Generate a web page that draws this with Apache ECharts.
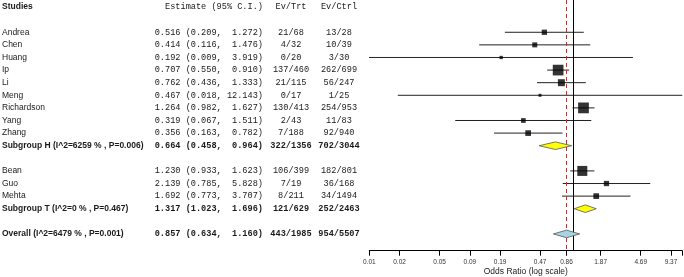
<!DOCTYPE html>
<html>
<head>
<meta charset="utf-8">
<script src="https://cdn.jsdelivr.net/npm/echarts@6/dist/echarts.min.js"></script>
<style>
html,body{margin:0;padding:0;background:#fff;}
#chart{width:684px;height:277px;}
</style>
</head>
<body>
<div id="chart"></div>
<script>
// ---- data ----
const studies = ["Andrea","Chen","Huang","Ip","Li","Meng","Richardson","Yang","Zhang",
  "Subgroup H (I^2=6259 % , P=0.006)","Bean","Guo","Mehta",
  "Subgroup T (I^2=0 % , P=0.467)","Overall (I^2=6479 % , P=0.001)"];
const rowKind = ["study","study","study","study","study","study","study","study","study",
  "subgroup","study","study","study","subgroup","overall"];
const estimate = [0.516,0.414,0.192,0.707,0.762,0.467,1.264,0.319,0.356,0.664,1.230,2.139,1.692,1.317,0.857];
const lower    = [0.209,0.116,0.009,0.550,0.436,0.018,0.982,0.067,0.163,0.458,0.933,0.785,0.773,1.023,0.634];
const upper    = [1.272,1.476,3.919,0.910,1.333,12.143,1.627,1.511,0.782,0.964,1.623,5.828,3.707,1.696,1.160];
const evTrt    = ["21/68","4/32","0/20","137/460","21/115","0/17","130/413","2/43","7/188","322/1356",
  "106/399","7/19","8/211","121/629","443/1985"];
const evCtrl   = ["13/28","10/39","3/30","262/699","56/247","1/25","254/953","11/83","92/940","702/3044",
  "182/801","36/168","34/1494","252/2463","954/5507"];
const weight   = [7.0,6.2,2.7,28.5,12.2,2.2,29.0,5.5,8.1,null,25.0,7.0,8.1,null,null];
const headers  = ["Studies","Estimate (95% C.I.)","Ev/Trt","Ev/Ctrl"];
const tickValues = [0.00937,0.01874,0.04685,0.0937,0.1874,0.4685,0.857,1.874,4.685,9.37];
const tickLabels = ["0.01","0.02","0.05","0.09","0.19","0.47","0.86","1.87","4.69","9.37"];
const axisMin = 0.00937, axisMax = 12.143;
const nullValue = 1;
const axisTitle = "Odds Ratio (log scale)";

// ---- layout helpers ----
const lg = Math.log10;
// row slots: header=0, blank=1, then entries; blank row after each subgroup
const rows = [];
{ let r = 2; rowKind.forEach(k => { rows.push(r); r += (k === 'subgroup') ? 2 : 1; }); }

const SANS = "'Liberation Sans', Arial, sans-serif";
const MONO = "'Liberation Mono', 'DejaVu Sans Mono', monospace";
const FS = 8.5, MFS = 8.6;
const COL_STUDY_X = 2, COL_EST_RIGHT = 263, COL_TRT_C = 291, COL_CTRL_C = 339;
const TXT = '#1a1a1a';

function fmtEst(i){
  const hi = upper[i].toFixed(3);
  return estimate[i].toFixed(3) + ' (' + lower[i].toFixed(3) + ', ' + (' '.repeat(Math.max(0,6-hi.length))) + hi + ')';
}

const textData = [[0, -1]].concat(rows.map((r,i)=>[r, i]));
const ciData = [], sqData = [], dmData = [];
rowKind.forEach((k,i)=>{
  if (k === 'study') {
    ciData.push([rows[i], lg(lower[i]), lg(upper[i])]);
    sqData.push([lg(estimate[i]), rows[i], weight[i]]);
  } else {
    dmData.push([rows[i], lg(lower[i]), lg(estimate[i]), lg(upper[i]), k === 'overall' ? 1 : 0]);
  }
});

function txt(x, y, text, font, align){
  return {type:'text', x:x, y:y, style:{text:text, font:font, fill:TXT,
    align:align, textAlign:align, verticalAlign:'middle', textVerticalAlign:'middle'}};
}

const chart = echarts.init(document.getElementById('chart'), null, {renderer:'canvas'});
chart.setOption({
  animation:false,
  backgroundColor:'#fff',
  grid:{left:369.3, right:1.7, top:0, bottom:26.3, containLabel:false, outerBoundsMode:'none'},
  xAxis:{
    type:'value', min:lg(axisMin), max:lg(axisMax),
    splitLine:{show:false},
    axisLine:{show:true, onZero:false, lineStyle:{color:'#000', width:1}},
    axisTick:{show:true, length:5, lineStyle:{color:'#000'},
      customValues: tickValues.concat([axisMax]).map(lg)},
    axisLabel:{color:'#333', fontSize:6.5, fontFamily:SANS, margin:8,
      customValues: tickValues.map(lg),
      formatter: function(v){
        let best=0, bd=1e9;
        tickValues.forEach((t,j)=>{const d=Math.abs(lg(t)-v); if(d<bd){bd=d;best=j;}});
        return tickLabels[best];
      }},
    name:axisTitle, nameLocation:'middle', nameGap:16, nameMoveOverlap:false,
    nameTextStyle:{color:'#222', fontSize:8.5, fontFamily:SANS, verticalAlign:'top'}
  },
  yAxis:{type:'value', inverse:true, min:-0.56, max:19.33, show:false},
  series:[
    { type:'custom', name:'ci', clip:true, z:2,
      data:ciData, encode:{x:[1,2], y:0},
      renderItem:function(params, api){
        const a = api.coord([api.value(1), api.value(0)]);
        const b = api.coord([api.value(2), api.value(0)]);
        return {type:'line', shape:{x1:a[0], y1:a[1], x2:b[0], y2:b[1]},
          style:{stroke:'#222', lineWidth:1}};
      }
    },
    { type:'scatter', name:'studies', z:4,
      data:sqData, symbol:'rect',
      symbolSize:function(v){ return Math.sqrt(v[2])*2; },
      itemStyle:{color:'#000'},
      markLine:{
        silent:true, symbol:'none', label:{show:false}, z:3,
        data:[
          {xAxis:lg(nullValue), lineStyle:{color:'#000', type:'solid', width:1}},
          {xAxis:lg(estimate[estimate.length-1]), lineStyle:{color:'#ff1a1a', type:[4,3], width:1}}
        ]
      }
    },
    { type:'custom', name:'diamonds', z:5, clip:true,
      data:dmData, encode:{x:[1,2,3], y:0},
      renderItem:function(params, api){
        const y = api.coord([api.value(2), api.value(0)])[1];
        const l = api.coord([api.value(1), api.value(0)])[0];
        const m = api.coord([api.value(2), api.value(0)])[0];
        const r = api.coord([api.value(3), api.value(0)])[0];
        const h = 3.8;
        const overall = api.value(4) === 1;
        return {type:'polygon', shape:{points:[[l,y],[m,y-h],[r,y],[m,y+h]]},
          style:{fill: overall ? '#a9d3e3' : '#ffff00', stroke:'#555', lineWidth:0.8}};
      }
    },
    { type:'custom', name:'table', z:6, clip:false, silent:true,
      data:textData, encode:{y:0},
      renderItem:function(params, api){
        const y = api.coord([lg(axisMin), api.value(0)])[1];
        const i = api.value(1);
        if (i < 0) {
          return {type:'group', children:[
            txt(COL_STUDY_X, y, headers[0], 'bold '+FS+'px '+SANS, 'left'),
            txt(COL_EST_RIGHT, y, headers[1], MFS+'px '+MONO, 'right'),
            txt(COL_TRT_C, y, headers[2], MFS+'px '+MONO, 'center'),
            txt(COL_CTRL_C, y, headers[3], MFS+'px '+MONO, 'center')
          ]};
        }
        const bold = rowKind[i] !== 'study' ? 'bold ' : '';
        return {type:'group', children:[
          txt(COL_STUDY_X, y, studies[i], bold+FS+'px '+SANS, 'left'),
          txt(COL_EST_RIGHT, y, fmtEst(i), bold+MFS+'px '+MONO, 'right'),
          txt(COL_TRT_C, y, evTrt[i], bold+MFS+'px '+MONO, 'center'),
          txt(COL_CTRL_C, y, evCtrl[i], bold+MFS+'px '+MONO, 'center')
        ]};
      }
    }
  ]
});
</script>
</body>
</html>
